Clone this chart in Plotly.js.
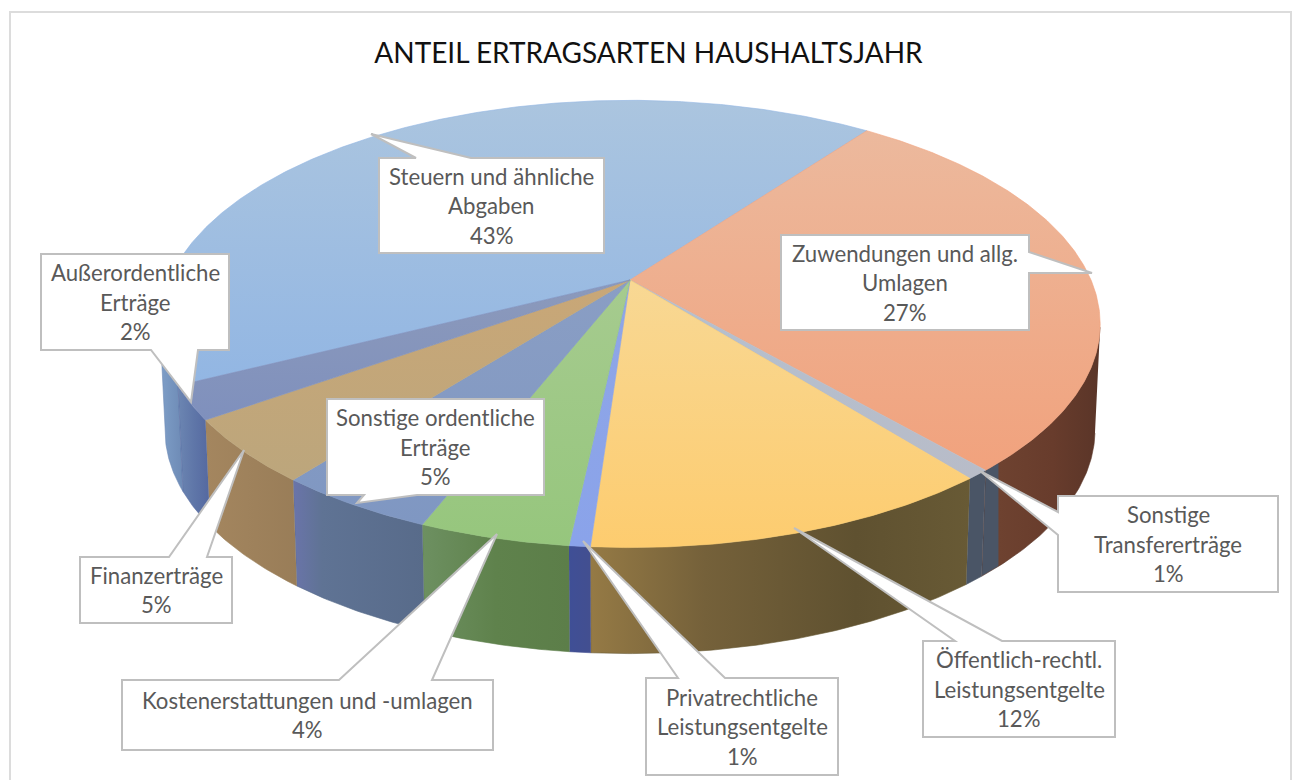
<!DOCTYPE html>
<html>
<head>
<meta charset="utf-8">
<script src="https://cdn.plot.ly/plotly-3.0.1.min.js"></script>
<style>html,body{margin:0;padding:0;background:#fff}#chart{width:1299px;height:780px}</style>
</head>
<body>
<div id="chart"></div>
<script>
// ---- data ----
var categories = [
  ["Steuern und ähnliche","Abgaben"],
  ["Zuwendungen und allg.","Umlagen"],
  ["Sonstige","Transfererträge"],
  ["Öffentlich-rechtl.","Leistungsentgelte"],
  ["Privatrechtliche","Leistungsentgelte"],
  ["Kostenerstattungen und -umlagen"],
  ["Sonstige ordentliche","Erträge"],
  ["Finanzerträge"],
  ["Außerordentliche","Erträge"]
];
var shares = [42.8, 27.49, 0.7, 12.49, 0.6, 4.3, 4.6, 4.6, 2.41];
var titleText = "ANTEIL ERTRAGSARTEN HAUSHALTSJAHR";

// ---- styles ----
var topColors = [
  ["#abc5df","#92b6e3"],["#ecb99d","#f1a27d"],["#b4c0cf","#b8bcc8"],
  ["#f8d894","#fdcc6f"],["#8fa6e6","#8aa3ea"],["#a6cb8f","#96c67d"],
  ["#8a9ec4","#7f97c2"],["#c9a777","#bca67c"],["#8c9abb","#7f90bd"]
];
var wallColors = [
  [[0,"#7f9fc8"],[1,"#6d8ab5"]],
  [[0,"#4a5566"],[0.14,"#4a5566"],[0.145,"#6e4230"],[0.6,"#683c2c"],[1,"#5a3528"]],
  [[0,"#4a5566"],[1,"#4a5566"]],
  [[0,"#957a45"],[0.3,"#75613a"],[0.7,"#5f5130"],[1,"#685a35"]],
  [[0,"#3f4f96"],[1,"#434f90"]],
  [[0,"#6d9061"],[0.5,"#5f824c"],[1,"#5c7e49"]],
  [[0,"#6a74aa"],[0.22,"#5f7394"],[1,"#586b8a"]],
  [[0,"#a4865f"],[1,"#997d58"]],
  [[0,"#6c86b2"],[0.5,"#5f76a8"],[1,"#5468a0"]]
];
var textColor = "#595959", calloutLine = "#bfbfbf", frameColor = "#dcdcdc";
var fontFace = "Lato, 'Open Sans', sans-serif";
var labelSize = 22.2, linePitch = 29.5;

// callout outlines: box corners with pointer wedge, and box text centre
var callouts = [
  {c:[491.5,205.5], p:[[379,158],[416,158],[371,134],[471,158],[604,158],[604,253],[379,253]]},
  {c:[905,282.5],   p:[[781,235],[1029,235],[1029,252],[1092,273],[1029,273],[1029,330],[781,330]]},
  {c:[1168,544],    p:[[1058,496],[1278,496],[1278,592],[1058,592],[1058,535],[980,471],[1058,512]]},
  {c:[1019,689],    p:[[923,641],[955,641],[794,528],[1002,641],[1115,641],[1115,737],[923,737]]},
  {c:[742,726.5],   p:[[646,678],[678,678],[583,541],[725,678],[838,678],[838,775],[646,775]]},
  {c:[307.5,715],   p:[[122,680],[339,680],[497,534],[432,680],[493,680],[493,750],[122,750]]},
  {c:[435.5,447],   p:[[327,399],[544,399],[544,495],[417,495],[357,503],[364,495],[327,495]]},
  {c:[156,590],     p:[[80,557],[169,557],[244,450],[207,557],[232,557],[232,623],[80,623]]},
  {c:[135,302],     p:[[41,254],[229,254],[229,350],[198,350],[191,402],[151,350],[41,350]]}
];

// ---- projection of the tilted disc onto the axes ----
var startAngle = 243.4, apexX = 630, apexY = 280, discA = 461, discB = 215, persp = 0.1965;
var depth = 106, bottomScale = 0.989;
var warpFrom = 37.5, warpTo = 184, warpAmount = 2.9;   // lens distortion of the 3D view
function project(deg, bottom) {
  var d = ((deg % 360) + 360) % 360, d0 = d;
  if (d0 > warpFrom && d0 < warpTo) d += warpAmount * Math.sin(Math.PI * (d0 - warpFrom) / (warpTo - warpFrom));
  d -= 1.0 * Math.exp(-Math.pow((d0 - warpFrom) / 30, 2));
  var r = d * Math.PI / 180, u = Math.sin(r), v = Math.cos(r), w = 1 + persp * v;
  return [apexX + (bottom ? bottomScale : 1) * discA * u / w,
          apexY - discB * v / w + (bottom ? depth : 0)];
}
var total = shares.reduce(function (a, b) { return a + b; }, 0);
var edges = [startAngle];
shares.forEach(function (s, i) { edges.push(edges[i] + s / total * 360); });
var limit = Math.acos(-persp) * 180 / Math.PI;   // silhouette angle of the disc

function arc(a, b, bottom) {
  var out = [], n = Math.max(2, Math.ceil(Math.abs(b - a) * 2));
  for (var i = 0; i <= n; i++) out.push(project(a + (b - a) * i / n, bottom));
  return out;
}
function frontRange(a, b) {
  var res = [];
  [-360, 0, 360].forEach(function (o) {
    var s = Math.max(a + o, limit - 2), e = Math.min(b + o, 360 - limit);
    if (e > s) res.push([s, e]);
  });
  return res;
}

var traces = [];
function polyTrace(pts, gradType, scale, lineCol) {
  return {
    type: "scatter", mode: "lines", hoverinfo: "skip", showlegend: false,
    x: pts.map(function (p) { return p[0]; }), y: pts.map(function (p) { return p[1]; }),
    fill: "toself", line: {width: 0.6, color: lineCol}, fillcolor: lineCol,
    fillgradient: {type: gradType, colorscale: scale}
  };
}
// walls first, then the upper faces
shares.forEach(function (s, i) {
  frontRange(edges[i], edges[i + 1]).forEach(function (r) {
    var pts = arc(r[0], r[1], false).concat(arc(r[1], r[0], true));
    var sc = wallColors[i];
    traces.push(polyTrace(pts, "horizontal", sc, sc[sc.length - 1][1]));
  });
});
shares.forEach(function (s, i) {
  var pts = [[apexX, apexY]].concat(arc(edges[i], edges[i + 1], false));
  pts.push([apexX, apexY]);
  traces.push(polyTrace(pts, "vertical", [[0, topColors[i][1]], [1, topColors[i][0]]], topColors[i][1]));
});

// ---- callouts ----
var shapes = [{type: "rect", xref: "x", yref: "y", x0: 10, x1: 1291, y0: 12, y1: 800,
               line: {color: frameColor, width: 2}, fillcolor: "rgba(0,0,0,0)", layer: "below"}];
var annotations = [];
callouts.forEach(function (c, i) {
  shapes.push({
    type: "path", xref: "x", yref: "y", layer: "above",
    path: "M" + c.p.map(function (q) { return q[0] + "," + q[1]; }).join("L") + "Z",
    fillcolor: "#ffffff", line: {color: calloutLine, width: 2}
  });
  var lines = categories[i].concat([Math.round(shares[i]) + "%"]);
  lines.forEach(function (t, j) {
    annotations.push({
      xref: "x", yref: "y", x: c.c[0], y: c.c[1] + (j - (lines.length - 1) / 2) * linePitch,
      text: t, showarrow: false, xanchor: "center", yanchor: "middle",
      font: {family: fontFace, size: labelSize, color: textColor}
    });
  });
});

Plotly.newPlot("chart", traces, {
  width: 1299, height: 780, margin: {l: 0, r: 0, t: 0, b: 0},
  paper_bgcolor: "#ffffff", plot_bgcolor: "#ffffff", showlegend: false,
  title: {text: titleText, x: 0.4992, xanchor: "center", y: 0.9316, yanchor: "middle",
          font: {family: fontFace, size: 28, color: "#111111"}},
  xaxis: {range: [0, 1299], visible: false, fixedrange: true},
  yaxis: {range: [780, 0], visible: false, fixedrange: true},
  shapes: shapes, annotations: annotations
}, {displayModeBar: false, staticPlot: true});
</script>
</body>
</html>
